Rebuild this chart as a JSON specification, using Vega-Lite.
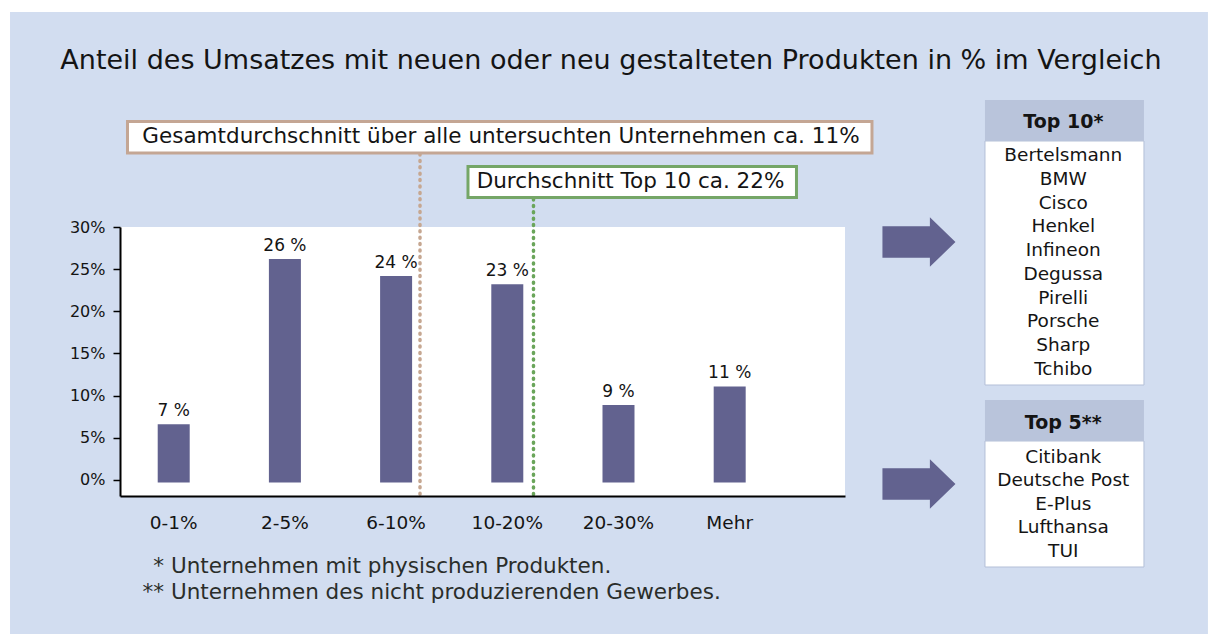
{
  "$schema": "https://vega.github.io/schema/vega-lite/v6.json",
  "width": 725,
  "height": 269,
  "autosize": {"type": "none"},
  "padding": {"left": 120, "top": 227, "right": 363, "bottom": 138},
  "background": "#ffffff",
  "config": {
    "view": {"stroke": null},
    "font": "DejaVu Sans",
    "text": {"font": "DejaVu Sans", "color": "#141414"},
    "axis": {"grid": false, "title": null, "domainColor": "#000000", "domainWidth": 2}
  },
  "datasets": {
    "shares": [
      {"idx": 0, "category": "0-1%", "share": 6.6, "label": "7 %"},
      {"idx": 1, "category": "2-5%", "share": 26.2, "label": "26 %"},
      {"idx": 2, "category": "6-10%", "share": 24.2, "label": "24 %"},
      {"idx": 3, "category": "10-20%", "share": 23.2, "label": "23 %"},
      {"idx": 4, "category": "20-30%", "share": 8.9, "label": "9 %"},
      {"idx": 5, "category": "Mehr", "share": 11.1, "label": "11 %"}
    ],
    "top10": [
      {"rank": 0, "name": "Bertelsmann"},
      {"rank": 1, "name": "BMW"},
      {"rank": 2, "name": "Cisco"},
      {"rank": 3, "name": "Henkel"},
      {"rank": 4, "name": "Infineon"},
      {"rank": 5, "name": "Degussa"},
      {"rank": 6, "name": "Pirelli"},
      {"rank": 7, "name": "Porsche"},
      {"rank": 8, "name": "Sharp"},
      {"rank": 9, "name": "Tchibo"}
    ],
    "top5": [
      {"rank": 0, "name": "Citibank"},
      {"rank": 1, "name": "Deutsche Post"},
      {"rank": 2, "name": "E-Plus"},
      {"rank": 3, "name": "Lufthansa"},
      {"rank": 4, "name": "TUI"}
    ],
    "footnotes": [
      {"line": 0, "marker": "*", "text": "Unternehmen mit physischen Produkten."},
      {"line": 1, "marker": "**", "text": "Unternehmen des nicht produzierenden Gewerbes."}
    ]
  },
  "resolve": {"scale": {"y": "independent"}},
  "layer": [
    {
      "layer": [
        {
          "data": {"values": [{}]},
          "mark": {"type": "rect", "color": "#d2ddf0"},
          "encoding": {
            "x": {"datum": -1.472, "type": "quantitative", "scale": {"domain": [-0.483, 6.037], "nice": false, "zero": false, "padding": 0}},
            "x2": {"datum": 9.301},
            "y": {"datum": 55.497, "type": "quantitative", "scale": {"domain": [-1.9, 30], "nice": false, "zero": false, "padding": 0}},
            "y2": {"datum": -18.266}
          }
        },
        {
          "data": {"values": [{}]},
          "mark": {"type": "rect", "color": "#ffffff"},
          "encoding": {
            "x": {"datum": -0.483, "type": "quantitative"},
            "x2": {"datum": 6.037},
            "y": {"datum": 30, "type": "quantitative"},
            "y2": {"datum": -1.9}
          }
        },
        {
          "data": {"name": "shares"},
          "mark": {"type": "bar", "color": "#62628f", "size": 32},
          "encoding": {
            "x": {"field": "idx", "type": "quantitative", "scale": {"domain": [-0.483, 6.037], "nice": false, "zero": false, "padding": 0},
                  "axis": {"labels": false, "ticks": false, "grid": false, "title": null, "zindex": 2, "domainColor": "#000000", "domainWidth": 2}},
            "y": {"field": "share", "type": "quantitative", "scale": {"domain": [-1.9, 30], "nice": false, "zero": false, "padding": 0},
                  "axis": {"values": [0, 5, 10, 15, 20, 25, 30], "labelExpr": "datum.value + '%'", "zindex": 2, "domainColor": "#000000", "domainWidth": 2,
                           "tickColor": "#000000", "tickSize": 7, "tickWidth": 1.5,
                           "labelFont": "DejaVu Sans", "labelFontSize": 16, "labelColor": "#141414", "labelPadding": 8, "title": null}},
            "y2": {"datum": -0.3}
          }
        },
        {
          "data": {"name": "shares"},
          "mark": {"type": "text", "baseline": "bottom", "dy": -4, "fontSize": 17},
          "encoding": {
            "x": {"field": "idx", "type": "quantitative"},
            "y": {"field": "share", "type": "quantitative"},
            "text": {"field": "label"}
          }
        },
        {
          "data": {"name": "shares"},
          "mark": {"type": "text", "baseline": "middle", "dy": 27, "fontSize": 18.5},
          "encoding": {
            "x": {"field": "idx", "type": "quantitative"},
            "y": {"datum": -1.9, "type": "quantitative"},
            "text": {"field": "category"}
          }
        },
        {
          "data": {"values": [{}]},
          "mark": {"type": "rule", "color": "#c6a791", "strokeWidth": 3.5, "strokeCap": "round", "strokeDash": [1, 5.4]},
          "encoding": {
            "x": {"datum": 2.215, "type": "quantitative"},
            "y": {"datum": 38.657, "type": "quantitative"},
            "y2": {"datum": -2.019}
          }
        },
        {
          "data": {"values": [{}]},
          "mark": {"type": "rule", "color": "#6aa55a", "strokeWidth": 3.5, "strokeCap": "round", "strokeDash": [1, 5.4]},
          "encoding": {
            "x": {"datum": 3.2355, "type": "quantitative"},
            "y": {"datum": 33.32, "type": "quantitative"},
            "y2": {"datum": -2.019}
          }
        },
        {
          "data": {"values": [{}]},
          "mark": {"type": "rect", "fill": "#ffffff", "stroke": "#c4a694", "strokeWidth": 3},
          "encoding": {
            "x": {"datum": -0.4156, "type": "quantitative"},
            "x2": {"datum": 6.2796},
            "y": {"datum": 42.511, "type": "quantitative"},
            "y2": {"datum": 38.776}
          }
        },
        {
          "data": {"values": [{}]},
          "mark": {"type": "text", "baseline": "middle", "fontSize": 21.5},
          "encoding": {
            "x": {"datum": 2.943, "type": "quantitative"},
            "y": {"datum": 40.673, "type": "quantitative"},
            "text": {"value": "Gesamtdurchschnitt über alle untersuchten Unternehmen ca. 11%"}
          }
        },
        {
          "data": {"values": [{}]},
          "mark": {"type": "rect", "fill": "#ffffff", "stroke": "#75a667", "strokeWidth": 3},
          "encoding": {
            "x": {"datum": 2.6465, "type": "quantitative"},
            "x2": {"datum": 5.6006},
            "y": {"datum": 37.175, "type": "quantitative"},
            "y2": {"datum": 33.498}
          }
        },
        {
          "data": {"values": [{}]},
          "mark": {"type": "text", "baseline": "middle", "fontSize": 21.5},
          "encoding": {
            "x": {"datum": 4.108, "type": "quantitative"},
            "y": {"datum": 35.337, "type": "quantitative"},
            "text": {"value": "Durchschnitt Top 10 ca. 22%"}
          }
        },
        {
          "data": {"values": [{}]},
          "mark": {"type": "text", "baseline": "middle", "fontSize": 27},
          "encoding": {
            "x": {"datum": 3.932, "type": "quantitative"},
            "y": {"datum": 49.686, "type": "quantitative"},
            "text": {"value": "Anteil des Umsatzes mit neuen oder neu gestalteten Produkten in % im Vergleich"}
          }
        },
        {
          "data": {"values": [{}]},
          "mark": {"type": "point", "filled": true, "opacity": 1, "color": "#62628f", "size": 5329,
                   "shape": "M-1,-0.43 L0.3,-0.43 L0.3,-0.68 L1,0 L0.3,0.68 L0.3,0.43 L-1,0.43 Z"},
          "encoding": {
            "x": {"datum": 6.702, "type": "quantitative"},
            "y": {"datum": 28.221, "type": "quantitative"}
          }
        },
        {
          "data": {"values": [{}]},
          "mark": {"type": "point", "filled": true, "opacity": 1, "color": "#62628f", "size": 5329,
                   "shape": "M-1,-0.43 L0.3,-0.43 L0.3,-0.68 L1,0 L0.3,0.68 L0.3,0.43 L-1,0.43 Z"},
          "encoding": {
            "x": {"datum": 6.702, "type": "quantitative"},
            "y": {"datum": -0.478, "type": "quantitative"}
          }
        },
        {
          "data": {"values": [{}]},
          "mark": {"type": "rect", "fill": "#ffffff", "stroke": "#b3bfd7", "strokeWidth": 1},
          "encoding": {
            "x": {"datum": 7.2958, "type": "quantitative"},
            "x2": {"datum": 8.7256},
            "y": {"datum": 40.199, "type": "quantitative"},
            "y2": {"datum": 11.263}
          }
        },
        {
          "data": {"values": [{}]},
          "mark": {"type": "rect", "fill": "#b9c4db"},
          "encoding": {
            "x": {"datum": 7.2958, "type": "quantitative"},
            "x2": {"datum": 8.7256},
            "y": {"datum": 45.061, "type": "quantitative"},
            "y2": {"datum": 40.199}
          }
        },
        {
          "data": {"values": [{}]},
          "mark": {"type": "text", "baseline": "middle", "fontSize": 19, "fontWeight": "bold"},
          "encoding": {
            "x": {"datum": 8.0, "type": "quantitative"},
            "y": {"datum": 42.452, "type": "quantitative"},
            "text": {"value": "Top 10*"}
          }
        },
        {
          "data": {"values": [{}]},
          "mark": {"type": "rect", "fill": "#ffffff", "stroke": "#b3bfd7", "strokeWidth": 1},
          "encoding": {
            "x": {"datum": 7.2958, "type": "quantitative"},
            "x2": {"datum": 8.7256},
            "y": {"datum": 4.622, "type": "quantitative"},
            "y2": {"datum": -10.321}
          }
        },
        {
          "data": {"values": [{}]},
          "mark": {"type": "rect", "fill": "#b9c4db"},
          "encoding": {
            "x": {"datum": 7.2958, "type": "quantitative"},
            "x2": {"datum": 8.7256},
            "y": {"datum": 9.484, "type": "quantitative"},
            "y2": {"datum": 4.622}
          }
        },
        {
          "data": {"values": [{}]},
          "mark": {"type": "text", "baseline": "middle", "fontSize": 19, "fontWeight": "bold"},
          "encoding": {
            "x": {"datum": 8.0, "type": "quantitative"},
            "y": {"datum": 6.756, "type": "quantitative"},
            "text": {"value": "Top 5**"}
          }
        }
      ]
    },
    {
      "data": {"name": "top10"},
      "mark": {"type": "text", "baseline": "middle", "fontSize": 18.5},
      "encoding": {
        "x": {"datum": 8.0, "type": "quantitative"},
        "y": {"field": "rank", "type": "quantitative", "axis": null,
              "scale": {"domain": [3.028, 14.34], "reverse": true, "nice": false, "zero": false}},
        "text": {"field": "name"}
      }
    },
    {
      "data": {"name": "top5"},
      "mark": {"type": "text", "baseline": "middle", "fontSize": 18.5},
      "encoding": {
        "x": {"datum": 8.0, "type": "quantitative"},
        "y": {"field": "rank", "type": "quantitative", "axis": null,
              "scale": {"domain": [-9.787, 1.66], "reverse": true, "nice": false, "zero": false}},
        "text": {"field": "name"}
      }
    },
    {
      "data": {"name": "footnotes"},
      "layer": [
        {
          "mark": {"type": "text", "baseline": "middle", "align": "right", "fontSize": 21.5, "color": "#2a2d2a"},
          "encoding": {
            "x": {"datum": -0.0873, "type": "quantitative"},
            "y": {"field": "line", "type": "quantitative", "axis": null,
                  "scale": {"domain": [-13.077, -2.731], "reverse": true, "nice": false, "zero": false}},
            "text": {"field": "marker"}
          }
        },
        {
          "mark": {"type": "text", "baseline": "middle", "align": "left", "fontSize": 21.5, "color": "#2a2d2a"},
          "encoding": {
            "x": {"datum": -0.0244, "type": "quantitative"},
            "y": {"field": "line", "type": "quantitative", "axis": null},
            "text": {"field": "text"}
          }
        }
      ]
    }
  ]
}
